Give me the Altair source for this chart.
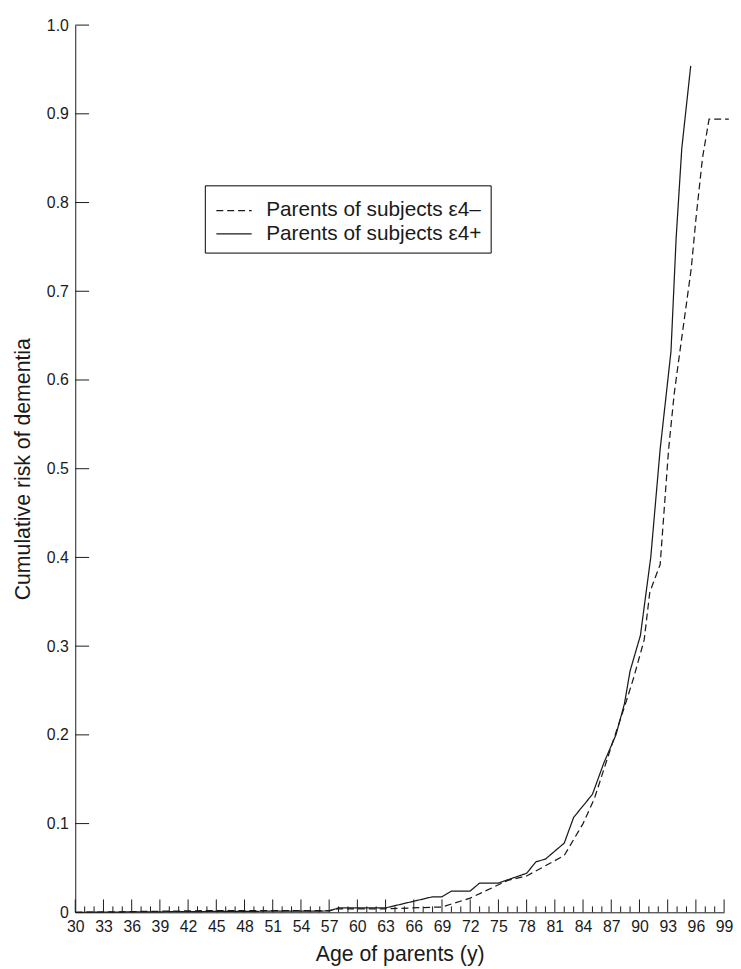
import altair as alt
import pandas as pd

# ---- data ----
series_names = ["Parents of subjects ε4–", "Parents of subjects ε4+"]

ages_neg = [30, 45, 57, 58, 63, 69, 72, 76, 78, 82, 84, 85.2, 87.1, 88.45, 89.4, 90.5,
            91.1, 92.2, 93.1, 93.7, 94.4, 95.5, 96.0, 96.7, 97.4, 99.5]
risk_neg = [0.0, 0.002, 0.002, 0.004, 0.004, 0.006, 0.016, 0.036, 0.041, 0.064, 0.100, 0.128,
            0.190, 0.233, 0.265, 0.307, 0.361, 0.392, 0.522, 0.585, 0.640, 0.725, 0.781, 0.850,
            0.894, 0.894]

ages_pos = [30, 45, 57, 58, 63, 68, 69, 70, 72, 73, 75, 78, 79, 80, 82, 83, 85, 86.2, 87.5,
            88.4, 89.0, 90.1, 91.2, 92.2, 93.35, 93.9, 94.5, 95.45]
risk_pos = [0.0, 0.001, 0.0015, 0.005, 0.005, 0.0175, 0.0175, 0.024, 0.024, 0.033, 0.033,
            0.044, 0.057, 0.060, 0.078, 0.107, 0.133, 0.168, 0.200, 0.235, 0.272, 0.312,
            0.400, 0.522, 0.632, 0.760, 0.861, 0.954]

x_major = list(range(30, 100, 3))
x_minor = [a for a in range(30, 100) if (a - 30) % 3]
y_labels = [0, 0.1, 0.2, 0.3, 0.4, 0.5, 0.6, 0.7, 0.8, 0.9, 1.0]
y_ticks = y_labels[1:]

df = pd.concat([
    pd.DataFrame({"age": ages_neg, "risk": risk_neg, "series": series_names[0]}),
    pd.DataFrame({"age": ages_pos, "risk": risk_pos, "series": series_names[1]}),
])

FONT = "Liberation Sans"
INK = "#1a1a1a"
W, H = 656, 897

xscale = alt.Scale(domain=[30, 99], nice=False, zero=False)
yscale = alt.Scale(domain=[0, 1], nice=False, zero=True)

xaxis = alt.Axis(values=x_major, title="Age of parents (y)", ticks=False,
                 grid=False, labelPadding=6, titlePadding=10,
                 labelFontSize=16, titleFontSize=21.5, labelFlush=False,
                 labelOverlap=False)
yaxis = alt.Axis(values=y_labels, title="Cumulative risk of dementia",
                 ticks=False, grid=False, labelPadding=7, titlePadding=12,
                 labelFontSize=16, titleFontSize=21.5,
                 labelExpr="datum.value == 0 ? '0' : format(datum.value, '.1f')")

lines = alt.Chart(df).mark_line(strokeWidth=1.25, color=INK).encode(
    x=alt.X("age:Q", scale=xscale, axis=xaxis, title="Age of parents (y)"),
    y=alt.Y("risk:Q", scale=yscale, axis=yaxis, title="Cumulative risk of dementia"),
    strokeDash=alt.StrokeDash(
        "series:N",
        scale=alt.Scale(domain=series_names, range=[[7, 4], [1, 0]]),
        legend=alt.Legend(title=" ", titleFontSize=5, titlePadding=0,
                          orient="none", legendX=131, legendY=162,
                          strokeColor="black", fillColor="white", padding=9,
                          symbolType="M-1.7,0H1.7", symbolSize=441, symbolStrokeWidth=1.3,
                          symbolStrokeColor=INK, symbolOffset=9, labelFontSize=21,
                          labelFont=FONT, labelColor=INK, labelOffset=21, labelLimit=0,
                          rowPadding=1.5)),
    order="age:Q",
)

xmaj = alt.Chart(pd.DataFrame({"age": x_major})).mark_rule(color=INK, strokeWidth=1).encode(
    x=alt.X("age:Q", scale=xscale, axis=xaxis, title="Age of parents (y)"),
    y=alt.value(H), y2=alt.value(H - 13),
)
xmin = alt.Chart(pd.DataFrame({"age": x_minor})).mark_rule(color=INK, strokeWidth=1).encode(
    x=alt.X("age:Q", scale=xscale, axis=xaxis, title="Age of parents (y)"),
    y=alt.value(H), y2=alt.value(H - 6),
)
yt = alt.Chart(pd.DataFrame({"risk": y_ticks})).mark_rule(color=INK, strokeWidth=1).encode(
    y=alt.Y("risk:Q", scale=yscale, axis=yaxis, title="Cumulative risk of dementia"),
    x=alt.value(0), x2=alt.value(14),
)

chart = alt.layer(lines, xmaj, xmin, yt).properties(
    width=W, height=H,
    autosize=alt.AutoSizeParams(type="none"),
    padding={"left": 68, "top": 12, "right": 9, "bottom": 50},
).configure(font=FONT).configure_view(stroke=None).configure_axis(
    domainColor=INK, labelColor=INK, titleColor=INK, labelFont=FONT, titleFont=FONT,
    titleFontWeight="normal", domainWidth=1,
)

chart.save("out.html", embed_options={"renderer": "svg", "actions": False})
